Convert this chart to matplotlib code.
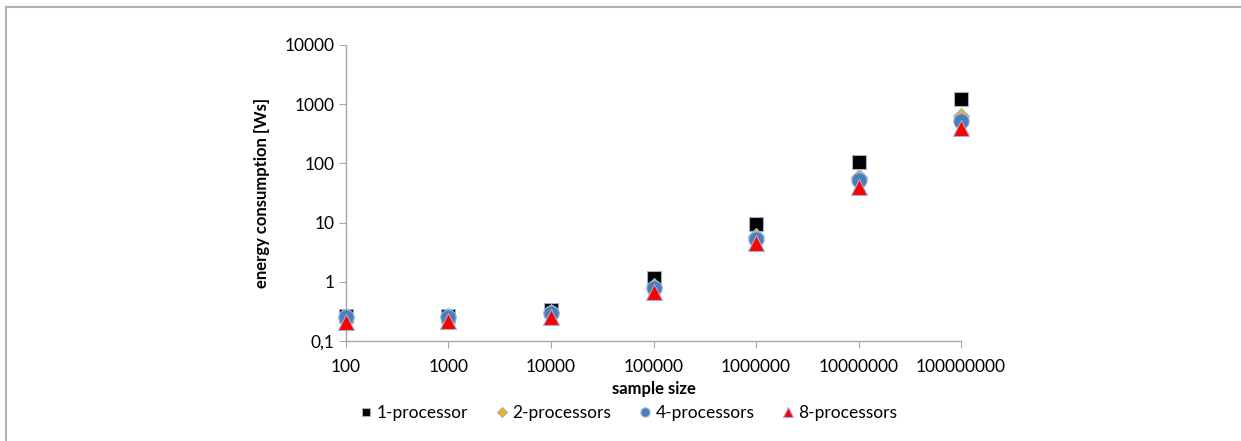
import matplotlib.pyplot as plt
from matplotlib.lines import Line2D

plt.rcParams['font.family'] = ['Lato', 'DejaVu Sans']

sizes = [100, 1000, 10000, 100000, 1000000, 10000000, 100000000]
size_labels = ['100', '1000', '10000', '100000', '1000000', '10000000', '100000000']

# energy in Ws per run
proc1 = [0.26, 0.26, 0.34, 1.15, 9.6, 105, 1230]
proc2 = [0.25, 0.26, 0.31, 0.85, 6.0, 58, 620]
proc4 = [0.25, 0.25, 0.30, 0.80, 5.2, 53, 520]
proc8 = [0.21, 0.22, 0.25, 0.68, 4.5, 40, 400]

yticks = [0.1, 1, 10, 100, 1000, 10000]
ytick_labels = ['0,1', '1', '10', '100', '1000', '10000']

fig = plt.figure(figsize=(12.41, 4.41), dpi=100)
ax = fig.add_axes([0.2788, 0.2268, 0.4956, 0.6712])

series = [
    (proc1, 's', 'black', 10, '1-processor'),
    (proc2, 'D', '#f2b50f', 8, '2-processors'),
    (proc4, 'o', '#4a7ebb', 11, '4-processors'),
    (proc8, '^', '#ff0000', 11, '8-processors'),
]
for vals, m, c, ms, name in series:
    ax.plot(sizes, vals, linestyle='none', marker=m, color=c, markersize=ms,
            markeredgecolor='#9db3d0', markeredgewidth=0.8, label=name,
            clip_on=False, zorder=3)

ax.set_xscale('log')
ax.set_yscale('log')
ax.set_xlim(100, 100000000)
ax.set_ylim(0.1, 10000)
ax.set_xticks(sizes)
ax.set_xticklabels(size_labels)
ax.set_yticks(yticks)
ax.set_yticklabels(ytick_labels)
ax.minorticks_off()

for side in ['top', 'right']:
    ax.spines[side].set_visible(False)
for side in ['left', 'bottom']:
    ax.spines[side].set_color('#a6a6a6')
    ax.spines[side].set_linewidth(1.0)
ax.tick_params(axis='both', color='#a6a6a6', length=5, labelsize=12.5, colors='#a6a6a6',
               labelcolor='black')
ax.tick_params(axis='x', pad=8)

ax.set_xlabel('sample size', fontsize=12, fontweight='bold', labelpad=4)
ax.set_ylabel('energy consumption [Ws]', fontsize=12, fontweight='bold', labelpad=10)

fig.legend(loc='lower center', bbox_to_anchor=(0.506, 0.01), ncol=4, frameon=False,
           fontsize=12.5, handletextpad=0.15, handlelength=0.9, columnspacing=1.5,
           markerscale=0.6)

# light frame lines along top and left
fig.add_artist(Line2D([0.005, 1.0], [0.983, 0.983], color='#b0b0b0', linewidth=1.5))
fig.add_artist(Line2D([0.005, 0.005], [0.0, 0.983], color='#b0b0b0', linewidth=1.5))

fig.savefig('out.png', dpi=100)
